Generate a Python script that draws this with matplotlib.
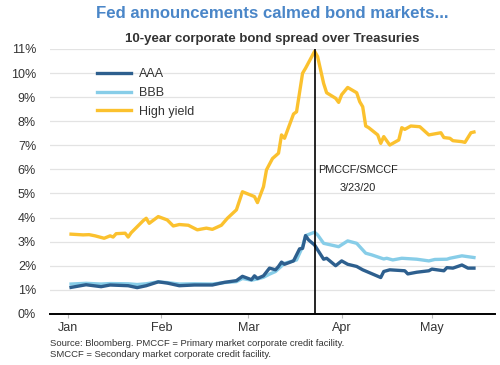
import pandas as pd
import matplotlib
matplotlib.use("Agg")
import matplotlib.pyplot as plt
import matplotlib.dates as mdates

plt.rcParams['font.family'] = ['Liberation Sans', 'DejaVu Sans']

# spreads in %
hy_dates = ['01-02', '01-06', '01-08', '01-10', '01-13', '01-15', '01-16', '01-17', '01-20',
            '01-21', '01-22', '01-26', '01-27', '01-28', '01-31', '02-03', '02-05', '02-07',
            '02-10', '02-13', '02-16', '02-18', '02-21', '02-23', '02-26', '02-28', '03-03',
            '03-04', '03-06', '03-07', '03-09', '03-11', '03-12', '03-13', '03-16', '03-17',
            '03-19', '03-20', '03-23', '03-24', '03-26', '03-27', '03-30', '03-31', '04-01',
            '04-03', '04-06', '04-07', '04-08', '04-09', '04-10', '04-13', '04-14', '04-15',
            '04-17', '04-20', '04-21', '04-22', '04-24', '04-27', '04-30', '05-04', '05-05',
            '05-07', '05-08', '05-11', '05-12', '05-14', '05-15']
hy_vals = [3.31, 3.28, 3.29, 3.24, 3.14, 3.24, 3.19, 3.33, 3.35,
           3.19, 3.37, 3.87, 3.97, 3.76, 4.04, 3.90, 3.65, 3.71,
           3.68, 3.49, 3.56, 3.51, 3.68, 3.97, 4.32, 5.07, 4.87,
           4.62, 5.28, 5.98, 6.45, 6.67, 7.43, 7.29, 8.30, 8.39,
           9.99, 10.2, 10.9, 10.68, 9.57, 9.18, 8.95, 8.78, 9.10,
           9.40, 9.18, 8.81, 8.60, 7.80, 7.73, 7.43, 7.08, 7.36,
           7.01, 7.22, 7.73, 7.66, 7.80, 7.77, 7.43, 7.52, 7.32,
           7.29, 7.19, 7.15, 7.12, 7.52, 7.55]

aaa_dates = ['01-02', '01-07', '01-12', '01-15', '01-21', '01-24', '01-27', '01-31', '02-03',
             '02-07', '02-12', '02-18', '02-22', '02-26', '02-28', '03-02', '03-03', '03-04',
             '03-06', '03-08', '03-10', '03-11', '03-12', '03-13', '03-16', '03-18', '03-19',
             '03-20', '03-21', '03-23', '03-24', '03-26', '03-27', '03-30', '04-01', '04-03',
             '04-06', '04-08', '04-14', '04-15', '04-17', '04-22', '04-23', '04-26', '04-30',
             '05-01', '05-05', '05-06', '05-08', '05-11', '05-13', '05-15']
aaa_vals = [1.10, 1.21, 1.13, 1.20, 1.17, 1.09, 1.17, 1.33, 1.28,
            1.17, 1.20, 1.20, 1.31, 1.38, 1.56, 1.42, 1.58, 1.47,
            1.58, 1.90, 1.83, 1.97, 2.15, 2.06, 2.20, 2.70, 2.72,
            3.25, 3.07, 2.86, 2.66, 2.27, 2.31, 2.00, 2.20, 2.06,
            1.97, 1.83, 1.51, 1.76, 1.83, 1.79, 1.66, 1.73, 1.79,
            1.86, 1.79, 1.92, 1.90, 2.03, 1.90, 1.90]

bbb_dates = ['01-02', '01-07', '01-12', '01-15', '01-21', '01-24', '01-27', '01-31', '02-03',
             '02-07', '02-12', '02-18', '02-22', '02-26', '02-28', '03-02', '03-04', '03-06',
             '03-08', '03-10', '03-13', '03-17', '03-19', '03-20', '03-23', '03-24', '03-26',
             '03-31', '04-03', '04-06', '04-09', '04-11', '04-15', '04-16', '04-18', '04-21',
             '04-26', '04-30', '05-02', '05-06', '05-07', '05-11', '05-15']
bbb_vals = [1.24, 1.27, 1.24, 1.26, 1.25, 1.22, 1.25, 1.33, 1.30,
            1.24, 1.25, 1.24, 1.30, 1.34, 1.47, 1.40, 1.45, 1.52,
            1.65, 1.76, 2.10, 2.24, 2.79, 3.25, 3.39, 3.28, 2.93,
            2.79, 3.03, 2.93, 2.52, 2.45, 2.28, 2.31, 2.24, 2.31,
            2.27, 2.20, 2.26, 2.27, 2.31, 2.41, 2.34]

event_date = '2020-03-23'


def to_dt(days):
    return pd.to_datetime(['2020-' + d for d in days])


fig = plt.figure(figsize=(5, 3.65), dpi=100)
ax = fig.add_axes([0.10, 0.14, 0.89, 0.726])

ax.plot(to_dt(aaa_dates), aaa_vals, color='#2d5f8e', lw=2.4, label='AAA', zorder=4)
ax.plot(to_dt(bbb_dates), bbb_vals, color='#87cde8', lw=2.4, label='BBB', zorder=3)
ax.plot(to_dt(hy_dates), hy_vals, color='#fbc12e', lw=2.4, label='High yield', zorder=3)

ev = pd.Timestamp(event_date)
ax.axvline(ev, color='black', lw=1.2, zorder=5)
ax.text(pd.Timestamp('2020-04-06 12:00'), 5.6, 'PMCCF/SMCCF\n3/23/20', ha='center', va='center',
        fontsize=7.8, color='#222222', linespacing=2.0)

ax.set_xlim(pd.Timestamp('2019-12-26'), pd.Timestamp('2020-05-22'))
ax.set_ylim(0, 11)
ax.set_yticks(range(0, 12))
ax.set_yticklabels([f'{i}%' for i in range(0, 12)])
ax.xaxis.set_major_locator(mdates.MonthLocator())
ax.xaxis.set_major_formatter(mdates.DateFormatter('%b'))

ax.grid(axis='y', color='#e3e3e3', lw=0.9)
ax.set_axisbelow(True)
for s in ['top', 'right', 'left']:
    ax.spines[s].set_visible(False)
ax.spines['bottom'].set_color('black')
ax.spines['bottom'].set_linewidth(1.4)
ax.spines['bottom'].set_zorder(6)
ax.tick_params(axis='y', length=0, labelsize=9, colors='#333333', pad=10)
ax.tick_params(axis='x', length=3, color='#bbbbbb', labelsize=9, labelcolor='#333333', pad=3)

ax.legend(loc='upper left', bbox_to_anchor=(0.08, 0.97), frameon=False, fontsize=9,
          handlelength=2.7, handletextpad=0.7, labelspacing=0.55, labelcolor='#333333')

fig.text(0.545, 0.962, 'Fed announcements calmed bond markets...', ha='center', va='center',
         fontsize=12.1, fontweight='bold', color='#4a86c8')
fig.text(0.545, 0.893, '10-year corporate bond spread over Treasuries', ha='center', va='center',
         fontsize=9.5, fontweight='bold', color='#333333')
fig.text(0.10, 0.044, 'Source: Bloomberg. PMCCF = Primary market corporate credit facility.\n'
         'SMCCF = Secondary market corporate credit facility.', ha='left', va='center',
         fontsize=6.8, color='#333333', linespacing=1.2)

fig.savefig('out.png', dpi=100)
